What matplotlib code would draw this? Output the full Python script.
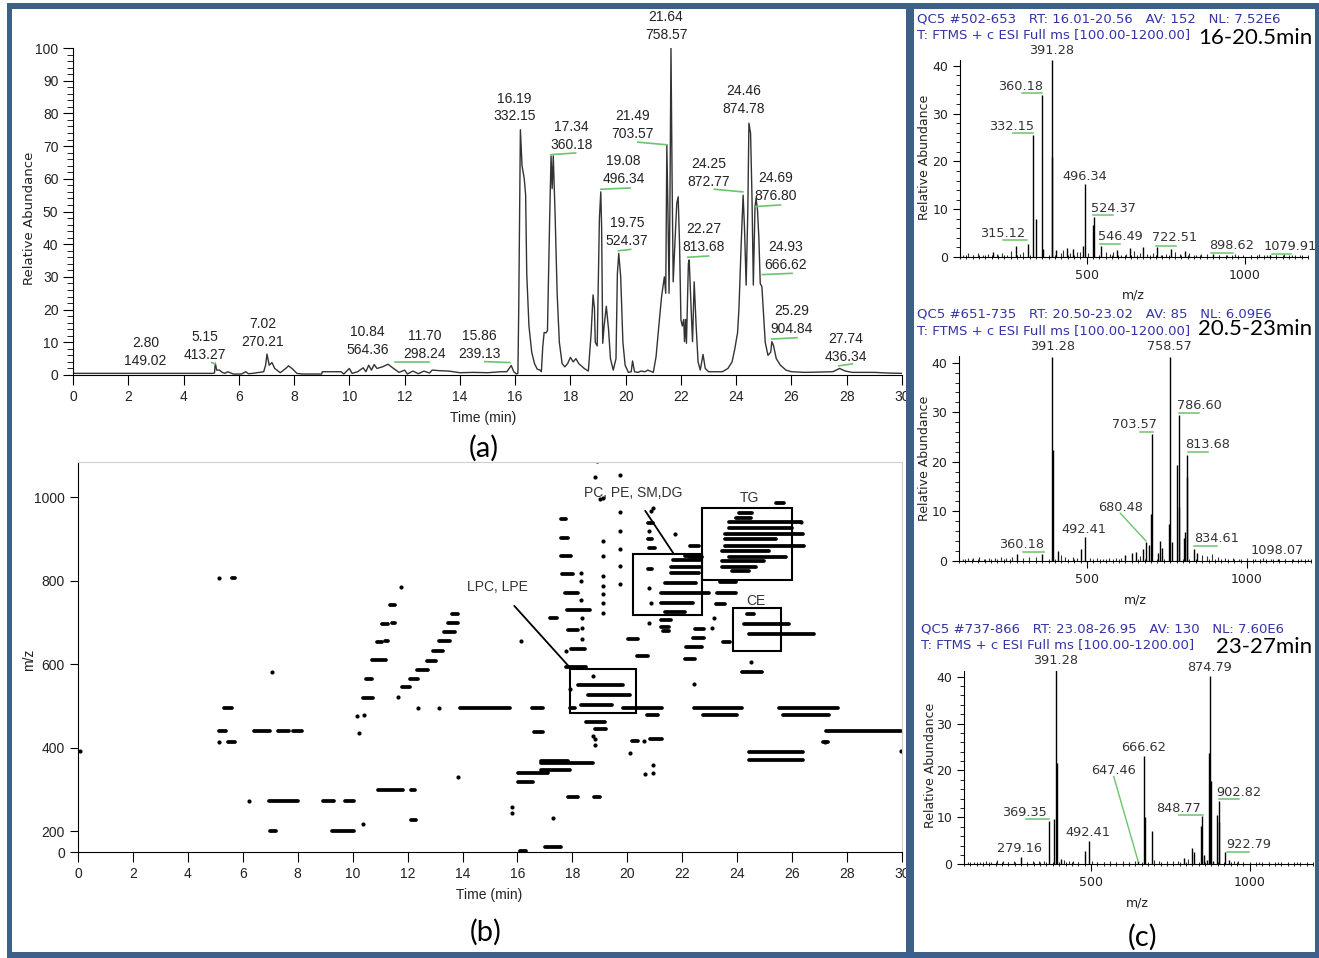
import matplotlib
matplotlib.use('Agg')
import matplotlib.pyplot as plt
from matplotlib.patches import Rectangle
from matplotlib.ticker import MultipleLocator

plt.rcParams['font.family'] = ['Liberation Sans', 'DejaVu Sans']

W, H = 1319, 958
FRAME = '#3d5f8b'
GREEN = '#6cc46c'
INK = '#222222'
HEAD = '#3434a4'

# ---------------- (a) chromatogram ----------------
chrom_t = [0.0, 5.05, 5.12, 5.15, 5.2, 5.3, 5.4, 5.5, 5.6, 5.8, 6.1, 6.25, 6.35, 6.5,
           6.9, 6.97, 7.02, 7.1, 7.2, 7.3, 7.5, 7.7, 7.8, 7.95, 8.1, 8.3, 9.0, 9.02,
           9.7, 9.8, 10.0, 10.1, 10.3, 10.5, 10.6, 10.7, 10.8, 10.9, 11.0, 11.2, 11.4,
           11.6, 11.8, 12.0, 12.1, 12.3, 12.5, 12.7, 12.9, 13.0, 13.3, 13.6, 13.9,
           14.0, 14.5, 15.0, 15.5, 15.7, 15.86, 15.95, 16.05, 16.1, 16.13, 16.19,
           16.25, 16.33, 16.38, 16.42, 16.5, 16.6, 16.7, 16.8, 16.9, 16.95, 17.0,
           17.05, 17.12, 17.17, 17.25, 17.3, 17.34, 17.38, 17.45, 17.52, 17.6, 17.7,
           17.8, 17.9, 18.0, 18.1, 18.2, 18.3, 18.5, 18.65, 18.75, 18.82, 18.87, 18.9,
           18.97, 19.05, 19.1, 19.13, 19.17, 19.22, 19.3, 19.38, 19.45, 19.55, 19.65,
           19.7, 19.75, 19.82, 19.9, 19.98, 20.1, 20.2, 20.25, 20.32, 20.45, 20.55,
           20.7, 20.8, 21.0, 21.1, 21.2, 21.3, 21.35, 21.4, 21.45, 21.49, 21.53,
           21.57, 21.6, 21.64, 21.68, 21.72, 21.78, 21.85, 21.9, 21.95, 22.0, 22.05,
           22.1, 22.13, 22.17, 22.2, 22.27, 22.3, 22.37, 22.42, 22.48, 22.55, 22.62,
           22.7, 22.8, 22.88, 23.0, 23.5, 23.7, 23.85, 23.95, 24.05, 24.1, 24.18,
           24.25, 24.3, 24.36, 24.42, 24.46, 24.52, 24.57, 24.62, 24.68, 24.72,
           24.77, 24.82, 24.87, 24.93, 24.98, 25.05, 25.15, 25.25, 25.29, 25.35,
           25.45, 25.6, 25.8, 26.0, 26.5, 27.0, 27.5, 27.74, 27.95, 28.2, 29.0,
           29.5, 30.0]
chrom_i = [0.5, 0.5, 0.6, 3.6, 1.5, 1.5, 0.8, 0.5, 1.0, 0.3, 0.3, 1.0, 0.4, 0.5,
           1.0, 3.0, 6.4, 3.0, 3.8, 2.0, 0.7, 2.0, 2.8, 1.8, 0.5, 0.3, 0.3, 1.0,
           1.0, 0.3, 2.0, 0.5, 1.0, 2.2, 1.0, 3.0, 1.5, 3.2, 2.0, 2.5, 3.3,
           2.0, 0.8, 1.5, 0.3, 1.2, 0.4, 1.2, 0.6, 1.5, 1.3, 1.2, 0.8,
           0.7, 0.8, 0.7, 1.0, 1.0, 2.9, 1.0, 0.3, 0.5, 20, 75,
           64, 60, 55, 31, 15, 7, 3.5, 1.8, 1.5, 1.0, 8.7,
           13, 12.9, 13.6, 48, 67, 57, 67, 48, 25, 10, 3.5,
           2.5, 3.5, 5.4, 4.0, 5.0, 3.5, 2.0, 1.2, 12.7, 24.5, 20.4, 10,
           8.9, 48, 56, 45, 9.7, 15, 21, 14, 5, 1.5, 5,
           31, 37.2, 30, 10, 3, 0.8, 1.0, 4.3, 1.0, 0.8, 1.2,
           1.0, 1.5, 0.8, 5.6, 15, 24, 27, 30, 25, 70.3, 50,
           25, 50, 100, 60, 28.5, 40, 52.5, 54.5, 40, 16.8, 15,
           17, 10.2, 17, 9.7, 34.1, 35.2, 20, 10.2, 28.5, 15, 4,
           1.5, 6.3, 2, 1.0, 1.0, 2.0, 4, 8, 13, 20.4, 40,
           55, 45, 27.5, 50, 77, 73.9, 55, 27.5, 51.5, 54,
           50.5, 42, 28, 27, 20, 10, 6, 7, 10.2, 9,
           5, 3, 1.5, 1.0, 0.8, 0.9, 1.0, 2.0, 1.2, 0.8, 0.8,
           0.6, 0.5]

chrom_lab_rt = ['2.80', '5.15', '7.02', '10.84', '11.70', '15.86', '16.19', '17.34',
                '21.49', '19.08', '19.75', '21.64', '22.27', '24.25', '24.46',
                '24.69', '24.93', '25.29', '27.74']
chrom_lab_mz = ['149.02', '413.27', '270.21', '564.36', '298.24', '239.13', '332.15',
                '360.18', '703.57', '496.34', '524.37', '758.57', '813.68', '872.77',
                '874.78', '876.80', '666.62', '904.84', '436.34']
chrom_lab_x = [2.63, 4.78, 6.86, 10.66, 12.72, 14.72, 15.97, 18.05, 20.26, 19.92,
               20.04, 21.46, 22.82, 23.02, 24.26, 25.41, 25.78, 26.0, 27.97]
chrom_lab_y = [7.0, 8.75, 12.95, 10.3, 9.15, 9.25, 81.8, 73.1, 76.45, 62.65,
               43.75, 106.65, 41.8, 61.85, 84.2, 57.5, 36.5, 16.85, 8.35]
chrom_ul_x0 = [5.02, 11.67, 14.9, 17.3, 20.44, 19.1, 19.74, 22.25, 23.21, 24.69, 24.95, 25.29, 27.71]
chrom_ul_x1 = [5.14, 12.87, 15.81, 18.19, 21.49, 20.16, 20.18, 23.0, 24.24, 25.6, 26.02, 26.2, 28.2]
chrom_ul_y0 = [3.8, 4.1, 4.1, 67.4, 71.2, 56.8, 38.0, 36.0, 56.8, 51.5, 30.7, 11.0, 2.8]
chrom_ul_y1 = [3.4, 4.1, 3.8, 67.9, 70.4, 57.2, 38.4, 36.4, 56.0, 52.0, 31.1, 11.4, 3.4]

# ---------------- (b) feature map: runs of m/z over time ----------------
seg_t0 = [5.12, 5.45, 5.30, 5.60, 6.39, 7.27, 7.84, 6.96, 8.93, 9.72, 7.00, 9.24,
          10.39, 10.47, 10.72, 10.90, 11.17, 11.08, 11.42, 11.36, 10.93, 12.12, 12.12,
          11.78, 12.08, 12.36, 12.69, 12.93, 13.14, 13.33, 13.48, 13.60,
          13.90, 16.52, 16.62, 17.17, 16.01, 16.01, 16.84, 16.84, 16.84, 16.99, 16.11,
          17.84, 18.79, 17.60, 17.60, 17.60, 17.62, 17.72, 17.82, 17.84, 17.96, 17.78,
          18.21, 18.57, 18.33, 17.90, 18.51, 18.82, 20.04, 20.34, 19.85, 20.70, 20.16,
          20.83, 20.75, 20.75, 20.80, 20.75,
          21.66, 21.60, 21.60, 21.36, 21.24, 21.24, 21.36, 21.24, 21.24, 21.30,
          22.10, 22.29, 22.29,
          25.40, 24.06, 23.94, 23.70, 23.70, 23.57, 23.57, 23.57, 23.45, 23.70, 23.45,
          23.45, 23.82, 23.39, 23.27, 23.21,
          22.45, 22.39, 22.15, 22.09, 23.50,
          24.37, 24.24, 24.43, 24.18, 22.41, 22.74, 24.43, 24.43, 25.52, 25.65, 27.23,
          27.11]
seg_t1 = [5.39, 5.70, 5.60, 5.70, 7.00, 7.68, 8.17, 8.00, 9.33, 10.06, 7.20, 10.06,
          10.75, 10.70, 11.20, 11.05, 11.30, 11.30, 11.54, 11.54, 11.85, 12.27, 12.29,
          12.08, 12.39, 12.73, 13.05, 13.30, 13.55, 13.72, 13.84, 13.84,
          15.71, 16.93, 16.93, 17.45, 17.11, 16.56, 18.76, 17.84, 17.90, 17.60, 16.32,
          18.21, 19.00, 17.78, 17.84, 17.96, 18.02, 18.21, 18.63, 18.21, 18.45, 18.51,
          19.85, 20.10, 19.43, 18.09, 19.18, 19.24, 20.40, 20.77, 21.26, 21.13, 20.40,
          21.26, 20.95, 20.90, 21.00, 20.90,
          22.64, 22.64, 22.60, 22.50, 22.97, 22.40, 22.10, 21.60, 21.50, 21.50,
          22.70, 22.72, 22.60,
          25.71, 24.55, 24.49, 26.32, 26.01, 26.38, 25.40, 26.44, 25.16, 25.77, 24.98,
          24.67, 24.43, 23.94, 23.94, 23.57,
          22.78, 22.78, 22.72, 22.45, 23.73,
          24.61, 25.89, 26.80, 24.91, 24.18, 24.00, 26.38, 26.38, 27.66, 27.35, 29.98,
          27.29]
seg_mz = [440, 414, 494, 807, 440, 440, 440, 271, 271, 271, 200, 200,
          520, 565, 610, 653, 655, 695, 699, 742, 299, 299, 227,
          545, 565, 587, 608, 631, 655, 677, 699, 721,
          494, 494, 438, 711, 340, 318, 362, 368, 347, 163, 153,
          282, 282, 947, 903, 860, 815, 770, 729, 681, 637, 592,
          549, 526, 502, 494, 462, 444, 660, 620, 494, 478, 415,
          420, 939, 899, 879, 827,
          849, 833, 818, 794, 770, 746, 725, 705, 689, 680,
          859, 857, 883,
          986, 962, 951, 940, 927, 911, 899, 883, 871, 857, 847,
          833, 823, 797, 771, 743,
          685, 663, 640, 613, 653,
          719, 695, 671, 580, 494, 478, 390, 371, 494, 478, 440,
          414]
dot_t = [0.06, 5.15, 5.15, 7.05, 6.23, 10.39, 10.15, 10.42, 10.24, 11.76, 11.66, 12.39,
         13.14, 13.82, 16.13, 15.79, 15.79, 17.29, 17.78, 18.76, 17.90, 18.33, 18.33,
         18.33, 18.36, 18.36, 18.36, 18.76, 18.82, 18.82, 19.12, 19.12, 19.12, 19.12,
         19.12, 19.12, 19.12, 19.12, 18.88, 18.82, 19.00, 19.73, 19.73, 19.73, 19.73,
         19.73, 19.73, 20.59, 20.10, 20.65, 20.95, 20.95, 20.95, 20.85, 20.80, 20.80,
         20.85, 20.80, 21.74, 23.15, 26.32, 22.41, 23.10, 24.49, 29.98, 27.20]
dot_mz = [392, 807, 414, 580, 271, 217, 476, 478, 436, 785, 522, 494,
          494, 329, 655, 257, 243, 231, 631, 572, 541, 817, 799,
          754, 711, 687, 661, 427, 406, 420, 998, 895, 859, 811,
          787, 767, 746, 723, 1086, 1048, 996, 1054, 964, 919, 876,
          836, 792, 415, 387, 336, 358, 340, 974, 966, 919, 783,
          747, 699, 911, 711, 940, 552, 687, 606, 392, 414]
box_t0 = [17.9, 20.2, 22.72, 23.84]
box_t1 = [20.3, 22.72, 26.01, 25.61]
box_mz0 = [484, 717, 801, 632]
box_mz1 = [588, 863, 974, 734]
map_yticks = [150, 200, 400, 600, 800, 1000]
map_yticklabels = ['0', '200', '400', '600', '800', '1000']

# ---------------- (c) averaged mass spectra ----------------
s1_mz = [391.28, 392.28, 360.18, 363.2, 332.15, 340.2, 315.12, 277.2, 496.34, 489.3,
         524.37, 521.3, 546.49, 595.0, 637.0, 679.0, 722.51, 768.0, 810.0, 205.0,
         437.0, 458.0, 405.0, 898.62, 1079.91]
s1_int = [41.3, 20.9, 33.8, 1.7, 25.5, 8.0, 2.8, 2.2, 15.2, 2.2,
          8.4, 6.6, 2.2, 1.4, 1.9, 2.1, 2.1, 1.7, 1.3, 1.0,
          1.9, 1.7, 1.4, 0.6, 0.5]
s1_noise_mz = [110, 125, 140, 158, 172, 188, 218, 232, 248, 262, 290, 300, 418, 425,
               448, 470, 480, 506, 560, 575, 585, 610, 625, 650, 668, 690, 710, 735,
               750, 780, 795, 825, 845, 862, 880, 920, 945, 970, 995, 1020, 1045,
               1070, 1100, 1125, 1150, 1175]
s1_noise_int = [0.5, 0.8, 0.4, 0.9, 0.5, 0.7, 0.6, 0.8, 0.5, 1.2, 0.7, 1.0, 0.9, 1.5,
                0.8, 1.1, 1.0, 0.9, 1.0, 0.6, 1.1, 0.5, 0.7, 1.2, 0.8, 0.6, 0.9, 0.5,
                0.7, 1.0, 0.6, 0.8, 0.5, 0.7, 0.6, 0.5, 0.4, 0.6, 0.5, 0.4, 0.6,
                0.4, 0.5, 0.7, 0.4, 0.5]
s1_lab = ['391.28', '360.18', '332.15', '496.34', '524.37', '315.12', '546.49',
          '722.51', '898.62', '1079.91']
s1_lab_x = [389.5, 292.6, 263, 494.7, 584, 234.7, 607, 779, 958, 1144]
s1_lab_y = [43.3, 35.7, 27.2, 16.9, 10.1, 4.9, 4.3, 4.0, 2.4, 2.1]
s1_ul_x0 = [294.7, 268, 521, 236.8, 542, 721, 894.7, 1087]
s1_ul_x1 = [357.9, 331.6, 584, 312.6, 605, 784, 963, 1147]
s1_ul_y = [34.3, 26.0, 8.7, 3.5, 2.8, 2.4, 0.8, 0.6]

s2_mz = [391.28, 392.28, 758.57, 703.57, 701.5, 786.60, 781.6, 788.6, 813.68, 811.7,
         807.0, 802.0, 756.5, 765.0, 729.0, 734.0, 684.0, 674.0, 693.0, 721.0,
         834.61, 844.0, 492.41, 481.0, 409.0, 360.18, 281.0, 620.0, 641.0, 654.0,
         1098.07]
s2_int = [41.2, 22.4, 41.2, 25.7, 9.4, 29.4, 19.3, 10.9, 21.3, 17.0,
          5.7, 4.5, 7.5, 3.7, 4.0, 2.5, 3.8, 2.3, 3.2, 1.5,
          2.3, 1.5, 4.7, 2.4, 2.0, 1.3, 1.3, 1.2, 1.5, 1.8,
          0.4]
s2_noise_mz = [112, 128, 145, 162, 178, 195, 212, 230, 248, 265, 300, 318, 340, 418,
               430, 455, 470, 510, 530, 550, 570, 590, 605, 665, 860, 875, 890, 910,
               930, 955, 975, 1000, 1025, 1050, 1075, 1120, 1145, 1170, 1190]
s2_noise_int = [0.4, 0.6, 0.5, 0.7, 0.4, 0.6, 0.5, 0.8, 0.5, 0.7, 0.6, 0.8, 0.7, 1.2,
                0.8, 0.7, 0.6, 0.5, 0.6, 0.4, 0.5, 0.6, 0.5, 1.0, 1.2, 0.9, 1.4, 0.7,
                0.5, 0.6, 0.4, 0.5, 0.4, 0.5, 0.4, 0.3, 0.4, 0.3, 0.4]
s2_lab = ['391.28', '758.57', '786.60', '703.57', '813.68', '680.48', '492.41',
          '360.18', '834.61', '1098.07']
s2_lab_x = [392.7, 758, 852, 648, 878, 604, 491.7, 297, 906, 1094]
s2_lab_y = [43.2, 43.2, 31.4, 27.5, 23.5, 10.7, 6.4, 3.3, 4.5, 2.0]
s2_ul_x0 = [786, 667, 815.6, 300, 833]
s2_ul_x1 = [849, 706, 878, 364.6, 906]
s2_ul_y = [29.8, 26.1, 22.0, 1.8, 3.0]
s2_lead = [(604, 9.6), (684, 4.0)]

s3_mz = [391.28, 392.28, 384.0, 369.35, 279.16, 492.41, 480.0, 666.62, 672.0, 694.0,
         647.46, 874.79, 873.0, 880.0, 902.82, 896.0, 905.0, 848.77, 845.8, 820.0,
         824.0, 793.0, 855.0, 866.0, 922.79, 885.0, 936.0, 407.0]
s3_int = [41.4, 21.5, 9.7, 9.2, 1.6, 5.0, 2.8, 23.1, 10.0, 7.0,
          0.6, 40.2, 23.7, 17.8, 13.5, 10.5, 9.1, 10.2, 8.2, 3.4,
          2.7, 1.4, 2.0, 0.9, 2.6, 0.7, 0.9, 1.1]
s3_noise_mz = [112, 130, 150, 168, 185, 205, 222, 240, 258, 300, 318, 335, 352, 415,
               430, 445, 460, 505, 520, 540, 560, 580, 600, 620, 640, 700, 715, 740,
               760, 775, 805, 950, 965, 980, 1000, 1030, 1060, 1090, 1120, 1150, 1180]
s3_noise_int = [0.4, 0.5, 0.4, 0.6, 0.5, 0.9, 0.7, 0.5, 0.6, 0.5, 0.6, 0.7, 0.8, 1.0,
                0.8, 0.6, 0.5, 0.6, 0.4, 0.5, 0.6, 0.5, 0.7, 0.5, 0.8, 0.9, 0.6, 0.7,
                0.6, 0.8, 1.2, 0.8, 0.7, 0.5, 0.5, 0.4, 0.4, 0.4, 0.3, 0.4, 0.3]
s3_lab = ['391.28', '874.79', '666.62', '647.46', '902.82', '848.77', '369.35',
          '492.41', '279.16', '922.79']
s3_lab_x = [389.2, 875, 664.7, 570, 967.5, 775, 291, 489, 273.5, 999]
s3_lab_y = [43.4, 41.9, 24.9, 20.1, 15.4, 11.9, 11.1, 6.8, 3.4, 4.3]
s3_ul_x0 = [904, 778, 294.5, 927.5]
s3_ul_x1 = [967, 852, 368, 999]
s3_ul_y = [13.9, 10.5, 9.7, 2.7]
s3_lead = [(572, 18.7), (649, 0.6)]

spec_head1 = ['QC5 #502-653   RT: 16.01-20.56   AV: 152   NL: 7.52E6',
              'QC5 #651-735   RT: 20.50-23.02   AV: 85   NL: 6.09E6',
              'QC5 #737-866   RT: 23.08-26.95   AV: 130   NL: 7.60E6']
spec_head2 = 'T: FTMS + c ESI Full ms [100.00-1200.00]'
spec_tag = ['16-20.5min', '20.5-23min', '23-27min']


def fig_rect(l, t, r, b):
    return [l / W, 1 - b / H, (r - l) / W, (b - t) / H]


def ftext(x, y, s, **kw):
    fig.text(x / W, 1 - y / H, s, **kw)


def frame_rect(l, t, r, b, color, z):
    fig.add_artist(Rectangle((l / W, 1 - b / H), (r - l) / W, (b - t) / H,
                             transform=fig.transFigure, color=color, zorder=z, lw=0))


fig = plt.figure(figsize=(W / 100, H / 100), dpi=100)
fig.patch.set_facecolor('white')
frame_rect(7, 3, 1319, 958, FRAME, -3)
frame_rect(12, 9, 906, 952, 'white', -2)
frame_rect(914, 9, 1315, 952, 'white', -2)
frame_rect(906, 3, 914, 958, FRAME, 20)

# ---------------- panel (a) ----------------
ax = fig.add_axes(fig_rect(73, 48, 902, 375))
ax.patch.set_alpha(0)
ax.plot(chrom_t, chrom_i, color='#333333', lw=1)
ax.set_xlim(0, 30)
ax.set_ylim(0, 100)
ax.spines[['top', 'right']].set_visible(False)
ax.xaxis.set_major_locator(MultipleLocator(2))
ax.yaxis.set_major_locator(MultipleLocator(10))
ax.yaxis.set_minor_locator(MultipleLocator(2))
ax.tick_params(which='major', length=7, labelsize=10, labelcolor=INK)
ax.tick_params(axis='y', which='minor', length=4)
for x, y, rt, mz in zip(chrom_lab_x, chrom_lab_y, chrom_lab_rt, chrom_lab_mz):
    ax.text(x, y, rt + '\n' + mz, ha='center', va='center', fontsize=10,
            color=INK, linespacing=1.35, clip_on=False)
for x0, x1, y0, y1 in zip(chrom_ul_x0, chrom_ul_x1, chrom_ul_y0, chrom_ul_y1):
    ax.plot([x0, x1], [y0, y1], color=GREEN, lw=1.2)
ftext(483, 418, 'Time (min)', ha='center', va='center', fontsize=10, color=INK)
ftext(30, 218, 'Relative Abundance', ha='center', va='center', rotation=90,
      fontsize=9.5, color=INK, family='DejaVu Sans')
ftext(484, 448, '(a)', ha='center', va='center', fontsize=21, family='Lato')

# ---------------- panel (b) ----------------
ax = fig.add_axes(fig_rect(78, 462, 902, 852))
ax.patch.set_alpha(0)
ax.hlines(seg_mz, seg_t0, seg_t1, colors='black', linewidth=2.7, capstyle='round')
ax.scatter(dot_t, dot_mz, s=9, color='black', linewidths=0)
for t0, t1, m0, m1 in zip(box_t0, box_t1, box_mz0, box_mz1):
    ax.add_patch(Rectangle((t0, m0), t1 - t0, m1 - m0, fill=False, lw=1.5, ec='black'))
ax.annotate('LPC, LPE', xy=(17.96, 588), xytext=(15.26, 785), ha='center', va='center',
            fontsize=10, color='#333333',
            arrowprops=dict(arrowstyle='-', color='black', lw=1.3, shrinkA=9, shrinkB=0))
ax.annotate('PC, PE, SM,DG', xy=(21.68, 865), xytext=(20.22, 1010), ha='center',
            va='center', fontsize=10, color='#333333',
            arrowprops=dict(arrowstyle='-', color='black', lw=1.3, shrinkA=7, shrinkB=0))
ax.text(24.45, 998, 'TG', ha='center', va='center', fontsize=10, color='#333333')
ax.text(24.67, 752, 'CE', ha='center', va='center', fontsize=10, color='#333333')
ax.set_xlim(0, 30)
ax.set_ylim(150, 1084)
ax.xaxis.set_major_locator(MultipleLocator(2))
ax.set_yticks(map_yticks, map_yticklabels)
ax.tick_params(axis='x', length=7, labelsize=10, labelcolor=INK)
ax.tick_params(axis='y', length=6, labelsize=10, labelcolor=INK)
for side in ['top', 'right']:
    ax.spines[side].set_color('#d0d0d0')
ftext(489, 895, 'Time (min)', ha='center', va='center', fontsize=10, color=INK)
ftext(29, 660, 'm/z', ha='center', va='center', rotation=90, fontsize=10, color=INK)
ftext(486, 932, '(b)', ha='center', va='center', fontsize=21, family='Lato')

# ---------------- panel (c) ----------------
spectra = [
    dict(rect=(960, 59.6, 1308, 257), mz=s1_mz, inten=s1_int, nmz=s1_noise_mz,
         nint=s1_noise_int, lab=s1_lab, lx=s1_lab_x, ly=s1_lab_y, ux0=s1_ul_x0,
         ux1=s1_ul_x1, uy=s1_ul_y, lead=None, hy=(19, 35, 38), hx=917,
         ylab=(925, 157), xlab=(1133, 295)),
    dict(rect=(959, 356.3, 1311, 560.7), mz=s2_mz, inten=s2_int, nmz=s2_noise_mz,
         nint=s2_noise_int, lab=s2_lab, lx=s2_lab_x, ly=s2_lab_y, ux0=s2_ul_x0,
         ux1=s2_ul_x1, uy=s2_ul_y, lead=s2_lead, hy=(314, 331, 329), hx=917,
         ylab=(925, 458), xlab=(1135, 600)),
    dict(rect=(964, 670.6, 1313, 864.3), mz=s3_mz, inten=s3_int, nmz=s3_noise_mz,
         nint=s3_noise_int, lab=s3_lab, lx=s3_lab_x, ly=s3_lab_y, ux0=s3_ul_x0,
         ux1=s3_ul_x1, uy=s3_ul_y, lead=s3_lead, hy=(629, 645, 647), hx=921,
         ylab=(930, 765), xlab=(1137, 903)),
]
for i, sp in enumerate(spectra):
    ax = fig.add_axes(fig_rect(*sp['rect']))
    ax.patch.set_alpha(0)
    ax.vlines(sp['nmz'], 0, sp['nint'], colors='#333333', lw=0.8)
    ax.vlines(sp['mz'], 0, sp['inten'], colors='black', lw=1.0)
    for s, x, y in zip(sp['lab'], sp['lx'], sp['ly']):
        ax.text(x, y, s, ha='center', va='center', fontsize=9.3, color='#333333',
                family='DejaVu Sans', clip_on=False)
    for x0, x1, y in zip(sp['ux0'], sp['ux1'], sp['uy']):
        ax.plot([x0, x1], [y, y], color=GREEN, lw=1.1, clip_on=False)
    if sp['lead'] is not None:
        (xa, ya), (xb, yb) = sp['lead']
        ax.plot([xa, xb], [ya, yb], color=GREEN, lw=1.0)
    ax.set_xlim(100, 1200)
    ax.set_ylim(0, 41.3)
    ax.spines[['top', 'right']].set_visible(False)
    ax.set_xticks([500, 1000])
    ax.xaxis.set_minor_locator(MultipleLocator(20))
    ax.yaxis.set_major_locator(MultipleLocator(10))
    ax.yaxis.set_minor_locator(MultipleLocator(2))
    ax.tick_params(which='major', length=5, labelsize=9, labelcolor=INK)
    ax.tick_params(axis='x', which='minor', length=3, direction='inout')
    ax.tick_params(axis='y', which='minor', length=3)
    for lbl in ax.get_xticklabels() + ax.get_yticklabels():
        lbl.set_family('DejaVu Sans')
    h1, h2, ht = sp['hy']
    ftext(sp['hx'], h1, spec_head1[i], ha='left', va='center', fontsize=9.5,
          color=HEAD, family='DejaVu Sans')
    ftext(sp['hx'], h2, spec_head2, ha='left', va='center', fontsize=9.5,
          color=HEAD, family='DejaVu Sans')
    ftext(1312, ht, spec_tag[i], ha='right', va='center', fontsize=16, family='Lato')
    ftext(*sp['ylab'], 'Relative Abundance', ha='center', va='center', rotation=90,
          fontsize=9, color=INK, family='DejaVu Sans')
    ftext(*sp['xlab'], 'm/z', ha='center', va='center', fontsize=9, color=INK,
          family='DejaVu Sans')

ftext(1143, 937, '(c)', ha='center', va='center', fontsize=21, family='Lato')

fig.savefig('out.png', dpi=100)
